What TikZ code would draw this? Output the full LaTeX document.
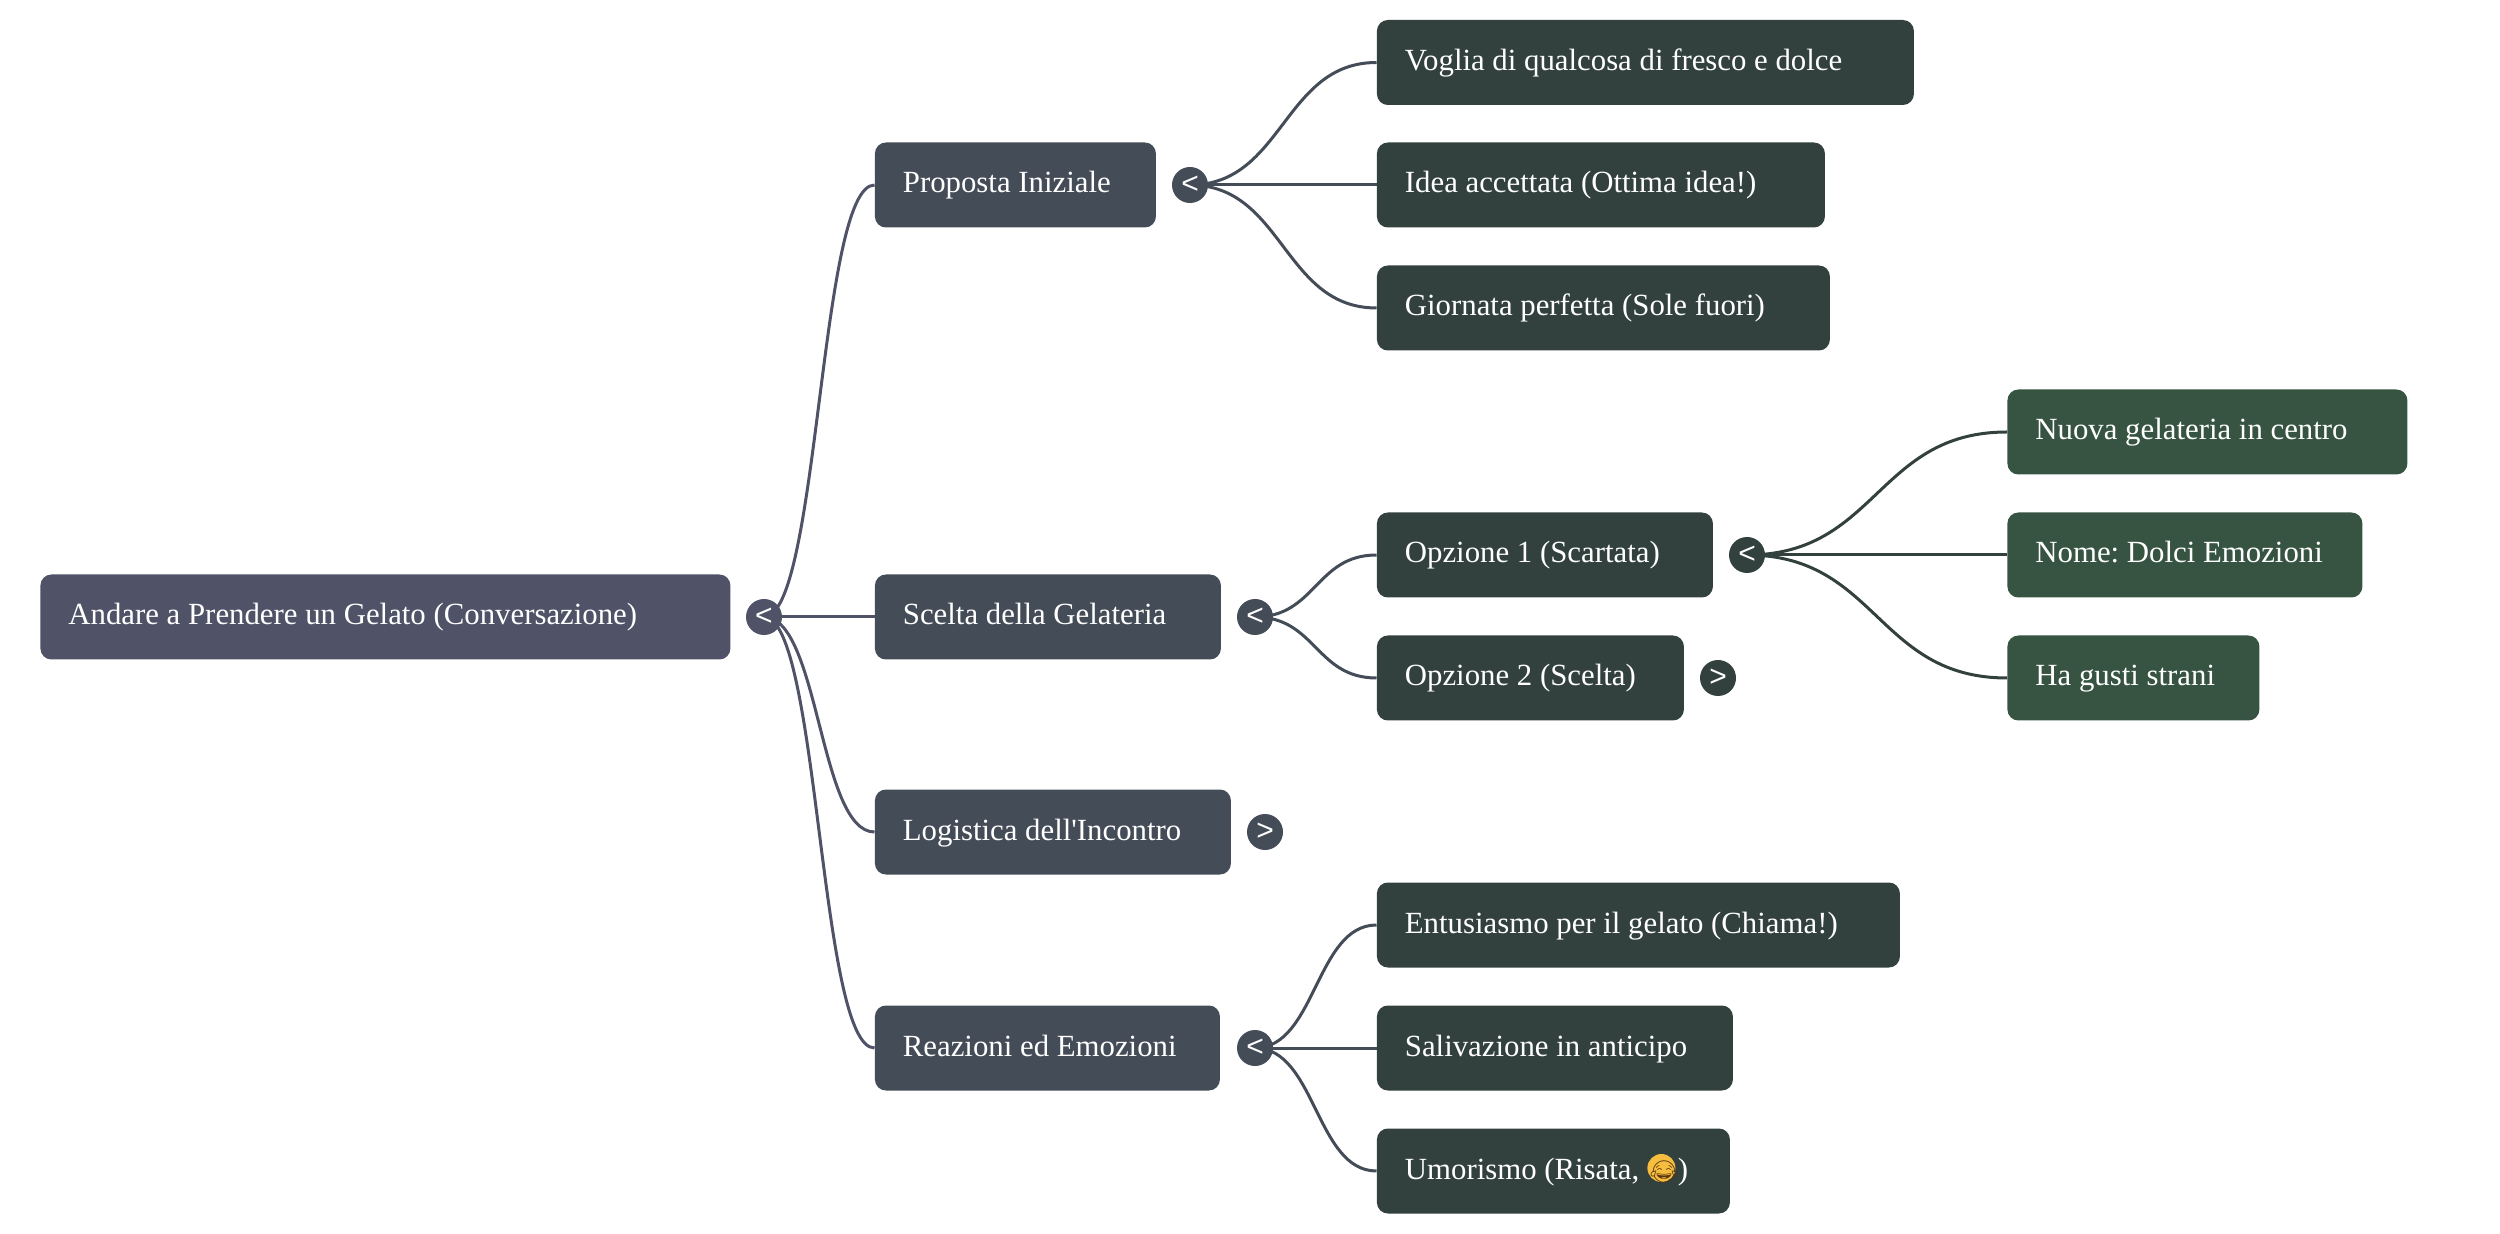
\documentclass[tikz,border=0pt]{standalone}
\usepackage{fontspec}
\newfontfamily\gelatofont{Liberation Serif}
\setsansfont{Liberation Sans}
\newfontfamily\emojifont{Noto Emoji}
\usetikzlibrary{backgrounds,calc}
\definecolor{rootcol}{HTML}{505267}
\definecolor{onecol}{HTML}{444C58}
\definecolor{twocol}{HTML}{32413E}
\definecolor{threecol}{HTML}{365441}
\definecolor{facecol}{HTML}{F6BE3F}
\definecolor{inkcol}{HTML}{5A3410}
\DeclareRobustCommand\gelatoset{\gelatofont\fontsize{15.4}{18}\selectfont\frenchspacing}
\tikzset{
  box/.style={anchor=west, rounded corners=5.5pt, minimum height=42.5pt, inner xsep=14pt, inner ysep=0pt,
    text=white, align=flush left, text width=#1*0.5pt-28pt, text height=11pt, text depth=3pt, font=\gelatoset},
  rootbox/.style={box=#1, fill=rootcol},
  onebox/.style={box=#1, fill=onecol},
  twobox/.style={box=#1, fill=twocol},
  threebox/.style={box=#1, fill=threecol},
  tog/.style={circle, fill=#1, minimum size=18pt, inner sep=0pt, text=white, font=\sffamily\fontsize{15}{15}\selectfont},
  branch/.style={draw=#1, line width=1.5pt}
}
\begin{document}
\begin{tikzpicture}[x=0.5pt, y=-0.5pt]
  \useasboundingbox (0,0) rectangle (2500,1234);

  % root
  \node[rootbox=690] (root) at (40,617) {Andare a Prendere un Gelato (Conversazione)};
  \node[tog=rootcol] (togroot) at (764,617) {<};

  % first level
  \node[onebox=281] (proposta) at (874.5,185) {Proposta Iniziale};
  \node[onebox=346] (scelta) at (874.5,617) {Scelta della Gelateria};
  \node[onebox=356] (logistica) at (874.5,832) {Logistica dell'Incontro};
  \node[onebox=345] (reazioni) at (874.5,1048) {Reazioni ed Emozioni};
  \node[tog=onecol] (togproposta) at (1190,185) {<};
  \node[tog=onecol] (togscelta) at (1255,617) {<};
  \node[tog=onecol] (toglogistica) at (1265,832) {>};
  \node[tog=onecol] (togreazioni) at (1255,1048) {<};

  % second level
  \node[twobox=537] (voglia) at (1376.5,62.5) {Voglia di qualcosa di fresco e dolce};
  \node[twobox=448] (idea) at (1376.5,185) {Idea accettata (Ottima idea!)};
  \node[twobox=453] (giornata) at (1376.5,308) {Giornata perfetta (Sole fuori)};
  \node[twobox=336] (opzioneuno) at (1376.5,555) {Opzione 1 (Scartata)};
  \node[twobox=307] (opzionedue) at (1376.5,678) {Opzione 2 (Scelta)};
  \node[twobox=523] (entusiasmo) at (1376.5,925) {Entusiasmo per il gelato (Chiama!)};
  \node[twobox=356] (salivazione) at (1376.5,1048) {Salivazione in anticipo};
  \node[twobox=353, path picture={\fill[facecol] ([xshift=54pt,yshift=1.5pt]path picture bounding box.center) circle (7pt);}] (umorismo) at (1376.5,1171)
    {Umorismo (Risata, \kern1.5pt\textcolor{inkcol}{\emojifont\fontsize{11}{15}\selectfont 😂})};
  \node[tog=twocol] (togopzioneuno) at (1747,555) {<};
  \node[tog=twocol] (togopzionedue) at (1718,678) {>};

  % third level
  \node[threebox=400] (nuova) at (2007,432) {Nuova gelateria in centro};
  \node[threebox=355] (nome) at (2007,555) {Nome: Dolci Emozioni};
  \node[threebox=252] (gusti) at (2007,678) {Ha gusti strani};

  \begin{pgfonlayer}{background}
    \foreach \a/\b/\c in {togroot/proposta/rootcol, togroot/scelta/rootcol, togroot/logistica/rootcol, togroot/reazioni/rootcol,
      togproposta/voglia/onecol, togproposta/idea/onecol, togproposta/giornata/onecol,
      togscelta/opzioneuno/onecol, togscelta/opzionedue/onecol,
      togreazioni/entusiasmo/onecol, togreazioni/salivazione/onecol, togreazioni/umorismo/onecol,
      togopzioneuno/nuova/twocol, togopzioneuno/nome/twocol, togopzioneuno/gusti/twocol}
    {
      \coordinate (m) at ($(\a.center)!.5!(\b.west)$);
      \draw[branch=\c] (\a.center) .. controls (m |- \a.center) and (m |- \b.west) .. (\b.west);
    }
  \end{pgfonlayer}
\end{tikzpicture}
\end{document}
